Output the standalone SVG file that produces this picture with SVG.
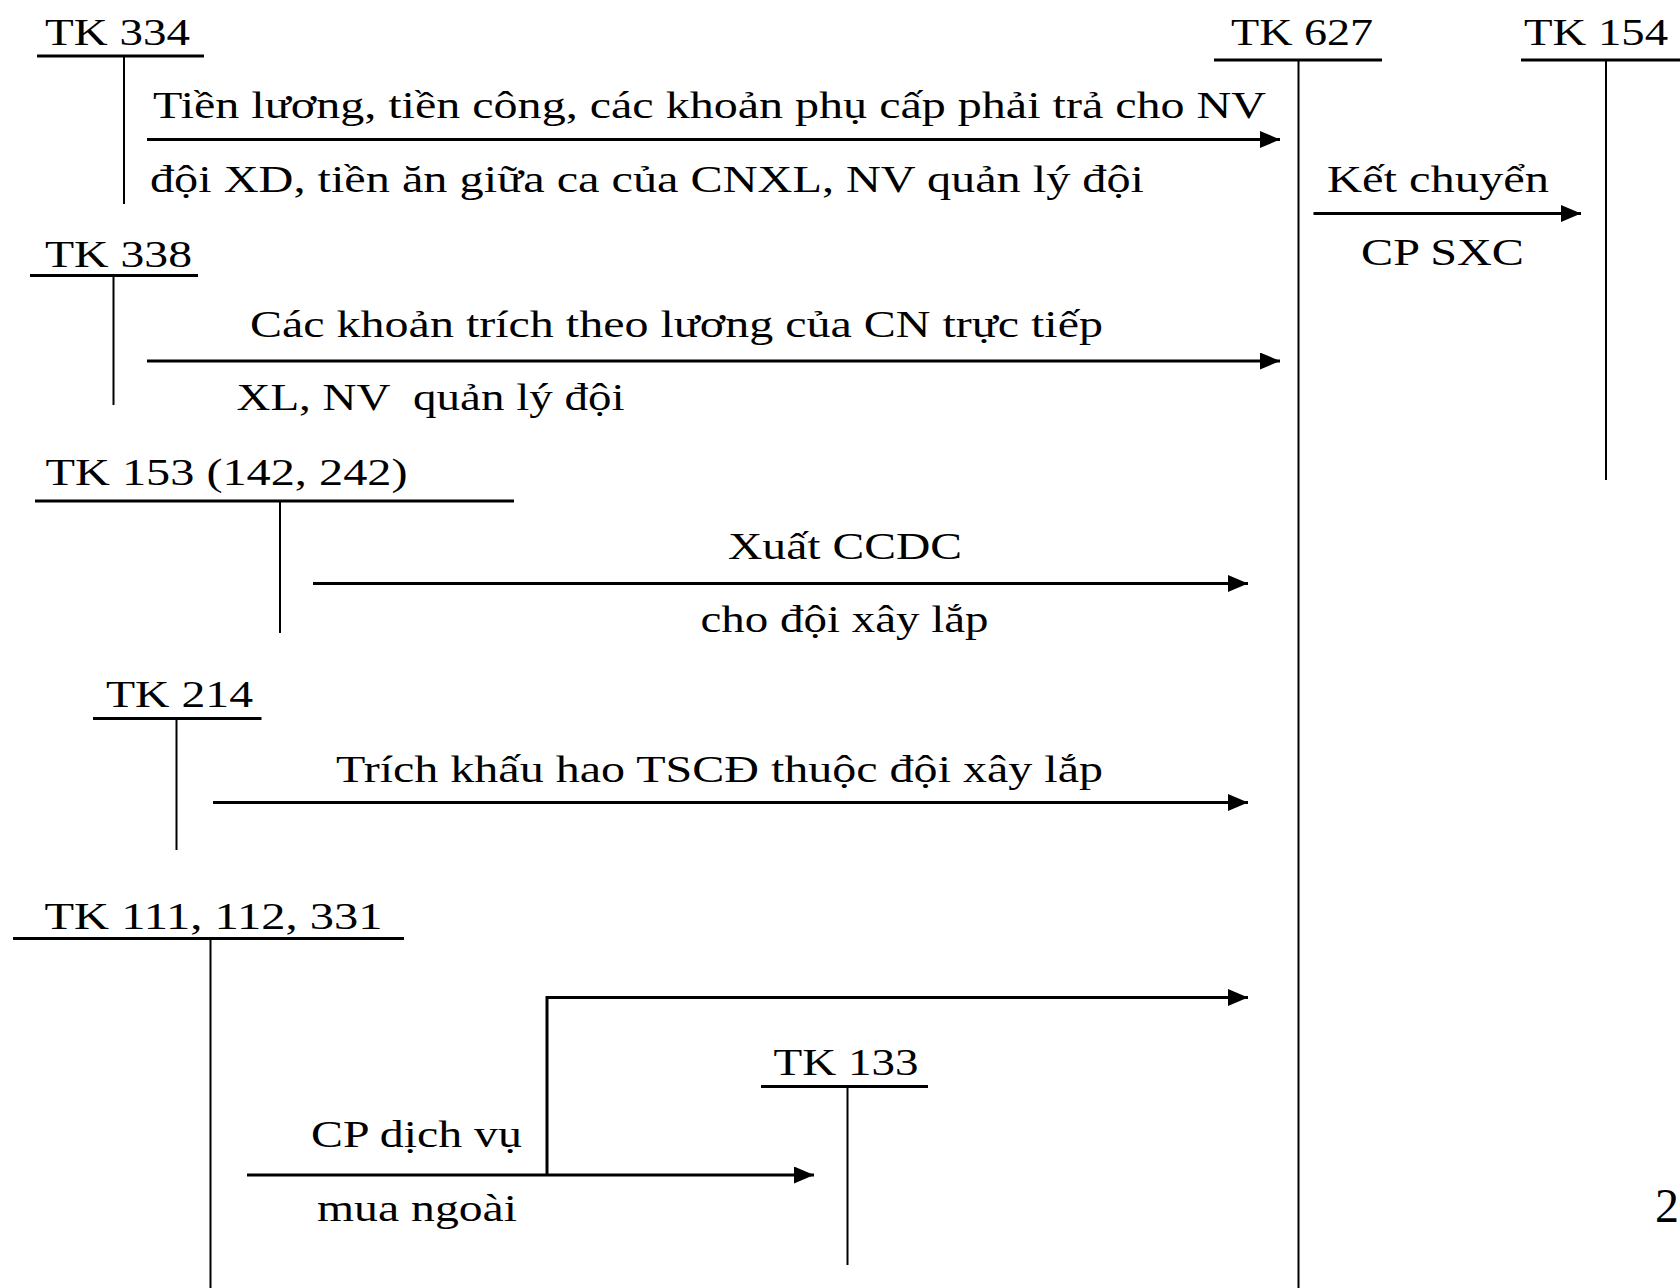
<svg xmlns="http://www.w3.org/2000/svg" width="1680" height="1288" viewBox="0 0 1680 1288">
<style>
text{font-family:"Liberation Serif","Times New Roman",serif;font-size:38px;fill:#000}
.ul{stroke:#000;stroke-width:3;fill:none}
.vl{stroke:#000;stroke-width:2;fill:none}
.ar{stroke:#000;stroke-width:3;fill:none}
.arh{stroke:#000;stroke-width:3;fill:none;marker-end:url(#ah)}
.pg{font-size:48px}
</style>
<defs>
<marker id="ah" markerUnits="userSpaceOnUse" markerWidth="22" markerHeight="18" refX="20" refY="8.5" orient="auto">
<path d="M0,0 L20,8.5 L0,17 z" fill="#000"/>
</marker>
</defs>
<rect width="1680" height="1288" fill="#fff"/>

<g id="tk334">
<text x="45" y="44.5" textLength="145" lengthAdjust="spacingAndGlyphs">TK 334</text>
<line class="ul" x1="37" y1="56" x2="204" y2="56"/>
<line class="vl" x1="124" y1="56" x2="124" y2="204"/>
</g>
<g id="tk627">
<text x="1231" y="44.5" textLength="142" lengthAdjust="spacingAndGlyphs">TK 627</text>
<line class="ul" x1="1214" y1="60" x2="1382" y2="60"/>
<line class="vl" x1="1298.5" y1="60" x2="1298.5" y2="1288"/>
</g>
<g id="tk154">
<text x="1524" y="44.5" textLength="144" lengthAdjust="spacingAndGlyphs">TK 154</text>
<line class="ul" x1="1521" y1="60" x2="1680" y2="60"/>
<line class="vl" x1="1606" y1="60" x2="1606" y2="480"/>
</g>
<g id="tk338">
<text x="45" y="266.5" textLength="147" lengthAdjust="spacingAndGlyphs">TK 338</text>
<line class="ul" x1="30" y1="275.5" x2="198" y2="275.5"/>
<line class="vl" x1="113.5" y1="275.5" x2="113.5" y2="405"/>
</g>
<g id="tk153">
<text x="45.5" y="485" textLength="362" lengthAdjust="spacingAndGlyphs">TK 153 (142, 242)</text>
<line class="ul" x1="35" y1="501" x2="514" y2="501"/>
<line class="vl" x1="280" y1="501" x2="280" y2="633"/>
</g>
<g id="tk214">
<text x="106" y="707" textLength="147" lengthAdjust="spacingAndGlyphs">TK 214</text>
<line class="ul" x1="93" y1="718.5" x2="261.5" y2="718.5"/>
<line class="vl" x1="176.5" y1="718.5" x2="176.5" y2="850"/>
</g>
<g id="tk111">
<text x="44.5" y="929" textLength="338" lengthAdjust="spacingAndGlyphs">TK 111, 112, 331</text>
<line class="ul" x1="13" y1="938.5" x2="404" y2="938.5"/>
<line class="vl" x1="210.5" y1="938.5" x2="210.5" y2="1288"/>
</g>
<g id="tk133">
<text x="773.5" y="1075" textLength="145" lengthAdjust="spacingAndGlyphs">TK 133</text>
<line class="ul" x1="761" y1="1086.5" x2="928" y2="1086.5"/>
<line class="vl" x1="847.5" y1="1086.5" x2="847.5" y2="1265"/>
</g>

<g id="connectors">
<line class="arh" x1="147" y1="139.5" x2="1280" y2="139.5"/>
<line class="arh" x1="1313.5" y1="213.5" x2="1581" y2="213.5"/>
<line class="arh" x1="147" y1="361" x2="1280" y2="361"/>
<line class="arh" x1="313" y1="583.5" x2="1248" y2="583.5"/>
<line class="arh" x1="213" y1="802.5" x2="1248" y2="802.5"/>
<polyline class="arh" points="547,1175 547,997.5 1248,997.5"/>
<line class="arh" x1="247" y1="1175" x2="814" y2="1175"/>
</g>

<g id="labels">
<text x="153" y="118" textLength="1113" lengthAdjust="spacingAndGlyphs">Tiền lương, tiền công, các khoản phụ cấp phải trả cho NV</text>
<text x="150" y="192" textLength="994" lengthAdjust="spacingAndGlyphs">đội XD, tiền ăn giữa ca của CNXL, NV quản lý đội</text>
<text x="1327" y="191.5" textLength="222" lengthAdjust="spacingAndGlyphs">Kết chuyển</text>
<text x="1361" y="265" textLength="163" lengthAdjust="spacingAndGlyphs">CP SXC</text>
<text x="250" y="336.5" textLength="853" lengthAdjust="spacingAndGlyphs">Các khoản trích theo lương của CN trực tiếp</text>
<text x="236.5" y="410" textLength="388" lengthAdjust="spacingAndGlyphs" xml:space="preserve">XL, NV  quản lý đội</text>
<text x="728" y="558.5" textLength="234" lengthAdjust="spacingAndGlyphs">Xuất CCDC</text>
<text x="700.5" y="631.5" textLength="288" lengthAdjust="spacingAndGlyphs">cho đội xây lắp</text>
<text x="336" y="781.5" textLength="767" lengthAdjust="spacingAndGlyphs">Trích khấu hao TSCĐ thuộc đội xây lắp</text>
<text x="311" y="1147" textLength="211" lengthAdjust="spacingAndGlyphs">CP dịch vụ</text>
<text x="317" y="1221" textLength="200" lengthAdjust="spacingAndGlyphs">mua ngoài</text>
</g>

<text class="pg" x="1655" y="1222">2</text>
</svg>
